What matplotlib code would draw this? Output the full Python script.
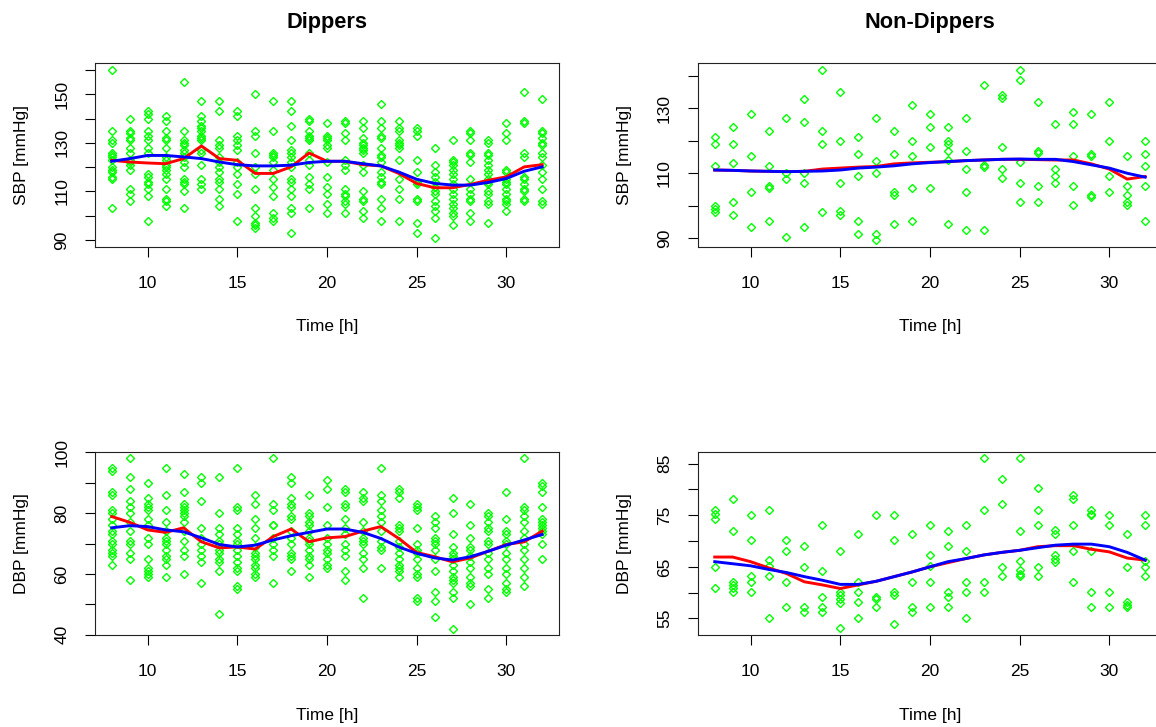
import numpy as np
import matplotlib
matplotlib.use("Agg")
from matplotlib import pyplot as plt

plt.rcParams['font.family'] = ['Liberation Sans', 'DejaVu Sans']

hours = list(range(8, 33))

# systolic readings per hour, dippers
dip_sbp = [
    [160, 135, 131, 130, 126, 125, 124, 123, 120, 119, 118, 116, 115, 103],
    [140, 135, 134, 132, 131, 128, 126, 123, 122, 121, 119, 111, 109, 106],
    [143, 142, 140, 135, 133, 131, 128, 126, 117, 116, 114, 113, 111, 108, 98],
    [141, 139, 135, 132, 131, 128, 124, 123, 121, 120, 119, 117, 115, 111, 107, 106, 104],
    [155, 135, 131, 130, 129, 127, 126, 124, 122, 120, 115, 114, 113, 110, 103],
    [147, 141, 139, 137, 136, 135, 133, 132, 131, 127, 126, 121, 115, 113, 111],
    [147, 143, 131, 129, 128, 124, 122, 120, 118, 115, 114, 111, 107, 104],
    [143, 141, 133, 131, 129, 127, 122, 120, 117, 113, 109, 98],
    [150, 135, 133, 126, 120, 117, 111, 103, 100, 97, 96, 95],
    [147, 135, 126, 125, 124, 122, 119, 115, 112, 108, 101, 99, 98],
    [147, 143, 137, 131, 127, 126, 124, 122, 120, 115, 114, 111, 108, 103, 101, 93],
    [140, 139, 135, 133, 132, 131, 126, 123, 121, 116, 113, 111, 103],
    [138, 133, 132, 131, 129, 128, 122, 116, 112, 109, 105, 101],
    [139, 138, 134, 131, 123, 121, 119, 111, 109, 108, 106, 105, 101],
    [139, 136, 132, 130, 129, 128, 127, 126, 121, 118, 110, 107, 106, 102, 99],
    [146, 139, 136, 133, 132, 128, 125, 124, 122, 118, 116, 114, 113, 107, 103, 98],
    [139, 136, 135, 131, 130, 129, 128, 123, 115, 111, 107, 98],
    [136, 135, 133, 123, 118, 114, 113, 107, 106, 97, 93],
    [128, 121, 118, 116, 114, 112, 110, 109, 106, 104, 102, 99, 91],
    [131, 123, 122, 121, 119, 117, 115, 113, 111, 109, 107, 105, 103, 101, 100, 96],
    [135, 134, 131, 126, 125, 122, 115, 111, 109, 107, 106, 101, 98],
    [131, 130, 126, 125, 123, 121, 119, 117, 115, 114, 113, 110, 109, 106, 105, 97],
    [138, 134, 131, 119, 118, 115, 114, 113, 111, 109, 107, 106, 105, 102],
    [151, 139, 138, 126, 124, 116, 115, 113, 111, 110, 107, 106],
    [148, 135, 134, 132, 130, 129, 126, 124, 121, 118, 115, 111, 106, 105],
]
dip_sbp_mean = [122.8, 122.1, 121.7, 121.4, 123.5, 128.7, 123.5, 122.8, 117.4, 117.4,
                120.1, 125.8, 122.4, 122.4, 121.0, 120.5, 117.4, 113.3, 111.5, 111.5,
                112.9, 114.6, 116.0, 120.1, 121.0]
dip_sbp_smooth = [122.4, 123.5, 124.8, 124.8, 124.2, 123.5, 122.1, 121.0, 120.5, 120.5,
                  120.8, 121.9, 122.4, 122.4, 121.4, 120.5, 118.0, 115.0, 113.3, 112.6,
                  112.6, 113.7, 115.3, 118.3, 120.1]

# systolic readings per hour, non-dippers
nondip_sbp = [
    [121.3, 119.1, 112.3, 99.8, 98.9, 97.9],
    [124.2, 119.1, 113.1, 101.0, 97.2],
    [128.2, 115.2, 104.1, 93.4],
    [123.0, 112.3, 106.1, 105.4, 95.4],
    [127.2, 110.0, 108.2, 90.3],
    [132.8, 125.9, 110.0, 106.9, 93.4],
    [141.8, 123.0, 119.1, 97.9],
    [135.0, 119.9, 106.9, 98.2, 97.2],
    [121.1, 116.0, 109.2, 95.4, 91.3],
    [127.2, 113.9, 110.0, 91.3, 89.5],
    [123.0, 116.0, 104.1, 103.3, 94.2],
    [131.0, 119.9, 115.2, 105.4, 95.4],
    [128.2, 124.2, 118.2, 105.4],
    [124.2, 119.9, 119.1, 117.0, 114.1, 94.2],
    [127.2, 117.0, 111.3, 104.1, 92.6],
    [137.1, 112.6, 111.9, 92.6],
    [134.1, 133.1, 118.2, 111.3, 108.4],
    [141.8, 138.8, 113.6, 107.1, 101.0],
    [132.1, 117.0, 116.4, 106.1, 101.0],
    [125.1, 111.3, 109.2, 107.1],
    [129.0, 125.1, 115.2, 106.1, 100.3],
    [128.2, 116.0, 115.2, 103.3, 102.6],
    [132.0, 119.9, 109.2, 104.1],
    [115.2, 106.1, 103.3, 101.0, 100.3],
    [119.9, 116.0, 112.3, 106.1, 95.4],
]
nondip_sbp_mean = [111.0, 110.9, 110.7, 110.6, 110.5, 110.6, 111.3, 111.6, 111.9, 112.1,
                   112.9, 113.2, 113.4, 113.6, 113.9, 114.1, 114.3, 114.3, 114.2, 114.1,
                   114.1, 112.9, 111.3, 108.2, 109.0]
nondip_sbp_smooth = [111.0, 110.9, 110.7, 110.6, 110.5, 110.6, 110.7, 111.0, 111.6, 111.9,
                     112.3, 112.9, 113.3, 113.6, 113.9, 114.1, 114.3, 114.4, 114.3, 114.3,
                     113.6, 112.6, 111.6, 110.0, 108.8]

# diastolic readings per hour, dippers
dip_dbp = [
    [95, 94, 87, 86, 81, 80, 78, 76, 74, 73, 71, 70, 68, 67, 66, 63],
    [98, 92, 88, 84, 82, 80, 77, 74, 71, 70, 67, 65, 58],
    [90, 85, 83, 82, 81, 78, 76, 72, 70, 65, 62, 61, 60, 59],
    [95, 86, 81, 77, 74, 72, 71, 70, 68, 66, 65, 63, 59],
    [93, 87, 83, 82, 81, 80, 79, 77, 74, 71, 68, 66, 60],
    [92, 90, 84, 75, 72, 70, 68, 66, 64, 57],
    [92, 80, 75, 73, 71, 70, 68, 67, 65, 64, 61, 47],
    [95, 82, 81, 75, 73, 71, 70, 68, 66, 64, 62, 61, 56, 55],
    [86, 83, 78, 75, 72, 69, 67, 66, 65, 63, 62, 60, 59],
    [98, 83, 81, 76, 76, 72, 70, 68, 66, 57],
    [92, 90, 85, 83, 82, 79, 78, 74, 72, 70, 67, 66, 65, 61],
    [86, 80, 79, 77, 76, 74, 72, 71, 70, 68, 66, 65, 63, 59],
    [91, 88, 82, 76, 72, 70, 68, 67, 65, 63, 62],
    [88, 87, 83, 82, 78, 75, 73, 70, 68, 66, 61, 58],
    [87, 85, 84, 77, 74, 72, 71, 70, 67, 65, 62, 52],
    [95, 86, 84, 81, 79, 77, 74, 71, 69, 68, 62],
    [88, 87, 85, 76, 75, 74, 71, 69, 67, 65, 63, 62, 61, 59],
    [83, 82, 81, 75, 70, 68, 67, 65, 62, 60, 59, 52, 51],
    [79, 77, 75, 72, 71, 70, 68, 65, 61, 54, 51, 46],
    [85, 80, 73, 69, 67, 66, 65, 63, 61, 59, 58, 57, 54, 52, 42],
    [83, 76, 72, 69, 68, 66, 64, 62, 59, 57, 56, 50],
    [80, 79, 77, 75, 74, 71, 70, 67, 65, 62, 60, 55, 52],
    [87, 78, 74, 73, 71, 70, 67, 65, 62, 60, 57, 55, 54],
    [98, 82, 81, 79, 77, 74, 72, 70, 68, 65, 62, 59, 56],
    [90, 89, 87, 82, 78, 77, 76, 75, 74, 73, 70, 65],
]
dip_dbp_mean = [78.9, 77.0, 74.5, 73.7, 75.2, 70.6, 68.6, 68.9, 68.2, 72.3,
                74.8, 70.6, 71.9, 72.3, 74.1, 75.6, 71.7, 67.1, 65.7, 64.0,
                65.3, 67.5, 69.7, 70.6, 74.1]
dip_dbp_smooth = [75.2, 75.9, 75.6, 74.5, 73.9, 71.9, 69.7, 68.9, 69.5, 71.2,
                  72.6, 73.7, 74.8, 74.8, 73.7, 71.7, 68.9, 66.8, 65.3, 64.6,
                  65.7, 67.5, 69.5, 71.2, 73.0]

# diastolic readings per hour, non-dippers
nondip_dbp = [
    [76.1, 75.3, 74.2, 65.0, 60.9],
    [78.1, 72.0, 62.1, 61.5, 60.9, 60.2],
    [75.0, 70.2, 63.3, 62.1, 60.2],
    [76.1, 66.3, 65.2, 63.2, 55.1],
    [70.2, 68.0, 62.1, 57.3],
    [69.1, 65.0, 57.3, 56.3],
    [73.2, 64.2, 59.2, 57.3, 56.3],
    [68.0, 60.2, 59.5, 58.7, 57.9, 53.2],
    [71.3, 62.1, 60.2, 58.1, 55.1],
    [75.0, 59.2, 58.7, 57.3],
    [75.0, 70.2, 60.2, 59.5, 54.0],
    [71.3, 62.1, 57.3, 56.3],
    [73.2, 67.3, 65.2, 62.1, 57.3],
    [72.0, 69.1, 60.2, 59.2, 57.3],
    [73.2, 68.0, 62.1, 60.2, 55.1],
    [86.1, 76.1, 62.1, 60.2],
    [82.1, 77.1, 65.0, 63.2],
    [86.1, 72.0, 66.1, 64.4, 63.7, 63.2],
    [80.2, 76.1, 73.2, 65.0, 63.2],
    [72.1, 71.3, 67.3, 66.6, 66.0],
    [79.0, 78.2, 73.2, 68.0, 62.1],
    [76.1, 75.3, 75.0, 68.0, 60.2, 57.3],
    [75.0, 73.2, 60.2, 57.3],
    [71.3, 65.0, 58.2, 57.7, 57.3],
    [75.0, 73.2, 66.1, 65.0, 63.2],
]
nondip_dbp_mean = [66.9, 66.9, 66.0, 64.8, 63.7, 62.1, 61.5, 60.8, 61.5, 62.2,
                   63.1, 64.0, 65.0, 65.8, 66.6, 67.3, 67.8, 68.2, 68.9, 69.1,
                   69.1, 68.4, 67.9, 66.7, 66.3]
nondip_dbp_smooth = [66.0, 65.6, 65.2, 64.5, 63.9, 63.1, 62.4, 61.6, 61.6, 62.2,
                     63.1, 64.0, 65.0, 66.0, 66.6, 67.3, 67.8, 68.2, 68.7, 69.2,
                     69.4, 69.4, 68.9, 67.8, 66.3]

fig = plt.figure(figsize=(11.56, 7.27), dpi=100)


def panel(rect, readings, mean, smooth, ylim, yticks, ylabels, ylabel, title=None):
    ax = fig.add_axes(rect)
    xs, ys = [], []
    for h, vals in zip(hours, readings):
        xs += [h] * len(vals)
        ys += vals
    ax.plot(xs, ys, linestyle='none', marker='D', ms=4.5, mfc='none',
            mec='#00FF00', mew=1.0, zorder=2)
    ax.plot(hours, mean, color='#FF0000', lw=2.1, zorder=3)
    ax.plot(hours, smooth, color='#0000FF', lw=2.1, zorder=4)

    ax.set_xlim(7.04, 32.96)
    ax.set_ylim(*ylim)
    ax.set_xticks([10, 15, 20, 25, 30])
    ax.set_yticks(yticks)
    ax.set_yticklabels(ylabels, rotation=90, va='center')
    ax.tick_params(direction='out', length=7.5, width=0.8, labelsize=12.5)
    ax.tick_params(axis='x', pad=13.3)
    ax.tick_params(axis='y', pad=10.8)
    for s in ax.spines.values():
        s.set_linewidth(0.8)
        s.set_color('#222222')
    ax.set_xlabel('Time [h]', fontsize=12.5, labelpad=20.5)
    ax.set_ylabel(ylabel, fontsize=12.5, labelpad=18.3)
    if title:
        ax.set_title(title, fontsize=15.7, fontweight='bold', pad=25.5)
    return ax


top_b, bot_b, h = 0.6605, 0.1259, 0.2527
left1, left2, w = 0.0818, 0.6034, 0.4021

panel([left1, top_b, w, h], dip_sbp, dip_sbp_mean, dip_sbp_smooth,
      (87.2, 162.8), list(range(90, 161, 10)),
      ['90', '', '110', '', '130', '', '150', ''], 'SBP [mmHg]', 'Dippers')
panel([left2, top_b, w, h], nondip_sbp, nondip_sbp_mean, nondip_sbp_smooth,
      (87.3, 144.0), list(range(90, 141, 10)),
      ['90', '', '110', '', '130', ''], 'SBP [mmHg]', 'Non-Dippers')
panel([left1, bot_b, w, h], dip_dbp, dip_dbp_mean, dip_dbp_smooth,
      (39.8, 100.2), list(range(40, 101, 10)),
      ['40', '', '60', '', '80', '', '100'], 'DBP [mmHg]')
panel([left2, bot_b, w, h], nondip_dbp, nondip_dbp_mean, nondip_dbp_smooth,
      (51.7, 87.3), list(range(55, 86, 5)),
      ['55', '', '65', '', '75', '', '85'], 'DBP [mmHg]')

fig.savefig('out.png', dpi=100)
